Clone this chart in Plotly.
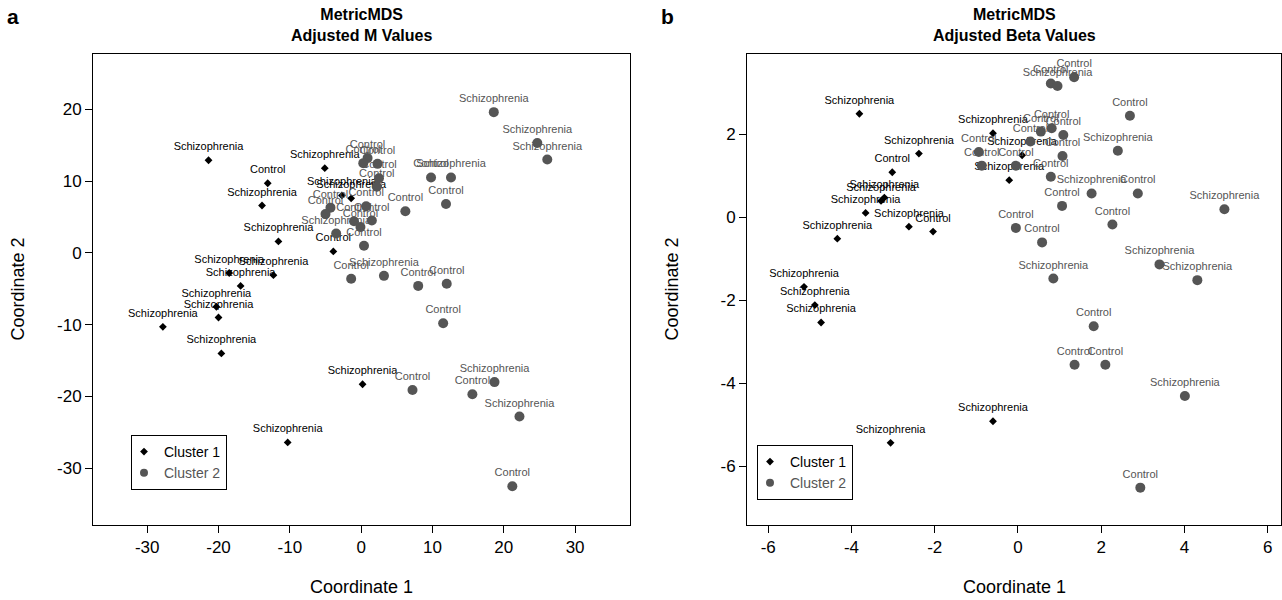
import plotly.graph_objects as go

S = "Schizophrenia"
C = "Control"

# ---------------- Panel a: Adjusted M Values ----------------
a_c1_x = [-21.4, -5.1, -13.1, -13.9, -11.6, -3.9, -18.5, -12.3, -16.9, -20.3, -20.0, -27.8, -19.6, -10.3, 0.2, -2.7, -1.4]
a_c1_y = [12.9, 11.8, 9.7, 6.6, 1.6, 0.2, -2.8, -3.1, -4.6, -7.5, -9.0, -10.3, -14.0, -26.4, -18.3, 8.0, 7.6]
a_c1_lab = [S, S, C, S, S, C, S, S, S, S, S, S, S, S, S, S, S]

a_c2_x = [18.6, 24.7, 26.1, 9.8, 12.6, 11.9, 6.2, 0.4, -1.4, 3.2, 8.0, 12.0, 11.5, 7.2, 18.7, 15.6, 22.2, 21.2,
          0.9, 0.3, 2.3, 2.5, 2.2, -4.3, -5.0, 0.7, -1.0, 1.5, -0.1, -3.5]
a_c2_y = [19.6, 15.3, 13.0, 10.5, 10.5, 6.8, 5.8, 1.0, -3.6, -3.2, -4.6, -4.3, -9.8, -19.1, -18.0, -19.7, -22.8, -32.5,
          13.2, 12.5, 12.4, 10.4, 9.2, 6.3, 5.4, 6.5, 4.4, 4.5, 3.6, 2.7]
a_c2_lab = [S, S, S, C, S, C, C, C, C, S, C, C, C, C, S, C, S, C,
            C, C, C, C, C, C, C, C, C, C, C, S]

# ---------------- Panel b: Adjusted Beta Values ----------------
b_c1_x = [-3.81, -2.38, -3.02, -3.21, -3.29, -3.66, -2.62, -2.04, -4.34, -0.60, -0.21, 0.10, -5.14, -4.88, -4.73, -3.06, -0.60]
b_c1_y = [2.49, 1.53, 1.08, 0.47, 0.39, 0.10, -0.23, -0.35, -0.52, 2.02, 0.89, 1.49, -1.68, -2.12, -2.54, -5.44, -4.92]
b_c1_lab = [S, S, C, S, S, S, S, C, S, S, S, S, S, S, S, S, S]

b_c2_x = [1.35, 0.79, 0.95, 2.69, 0.81, 1.09, 0.55, 0.30, -0.94, -0.87, -0.05, 1.07, 2.40, 0.79, 1.77, 2.88, 1.06,
          4.96, 2.27, -0.05, 0.58, 3.40, 4.31, 0.85, 1.82, 1.36, 2.10, 4.01, 2.94]
b_c2_y = [3.37, 3.22, 3.16, 2.44, 2.14, 1.98, 2.06, 1.82, 1.57, 1.24, 1.24, 1.47, 1.60, 0.97, 0.57, 0.57, 0.27,
          0.19, -0.18, -0.26, -0.61, -1.14, -1.52, -1.48, -2.63, -3.56, -3.56, -4.31, -6.52]
b_c2_lab = [C, C, S, C, C, C, C, C, C, C, C, C, S, C, S, C, C,
            S, C, C, C, S, S, S, C, C, C, S, C]

a_xticks = [-30, -20, -10, 0, 10, 20, 30]
a_yticks = [-30, -20, -10, 0, 10, 20]
b_xticks = [-6, -4, -2, 0, 2, 4, 6]
b_yticks = [-6, -4, -2, 0, 2]

titles = ["<b>MetricMDS</b><br><b>Adjusted M Values</b>", "<b>MetricMDS</b><br><b>Adjusted Beta Values</b>"]
panel_letters = ["a", "b"]
legend_names = ["Cluster 1", "Cluster 2"]

FONT = "Liberation Sans, Arial, sans-serif"
BLACK = "#000000"
GRAY = "#555555"

W, H = 1282, 600

fig = go.Figure()

def add_panel(xa, ya, legend, c1x, c1y, c1l, c2x, c2y, c2l):
    fig.add_trace(go.Scatter(
        x=c1x, y=c1y, mode="markers",
        marker=dict(symbol="diamond", size=6, color=BLACK),
        xaxis=xa, yaxis=ya, showlegend=False, hoverinfo="skip"))
    fig.add_trace(go.Scatter(
        x=c1x, y=c1y, text=c1l, mode="markers+text", textposition="top center",
        marker=dict(symbol="circle", size=10, color="rgba(0,0,0,0)"),
        textfont=dict(family=FONT, size=11, color=BLACK),
        xaxis=xa, yaxis=ya, showlegend=False, hoverinfo="skip"))
    fig.add_trace(go.Scatter(
        x=c2x, y=c2y, text=c2l, mode="markers+text", textposition="top center",
        marker=dict(symbol="circle", size=10, color=GRAY),
        textfont=dict(family=FONT, size=11, color=GRAY),
        xaxis=xa, yaxis=ya, showlegend=False, hoverinfo="skip"))
    # legend entries
    fig.add_trace(go.Scatter(
        x=[None], y=[None], mode="markers", name=legend_names[0],
        marker=dict(symbol="diamond", size=6, color=BLACK),
        xaxis=xa, yaxis=ya, legend=legend))
    fig.add_trace(go.Scatter(
        x=[None], y=[None], mode="markers", name="<span style='color:%s'>%s</span>" % (GRAY, legend_names[1]),
        marker=dict(symbol="circle", size=8, color=GRAY),
        xaxis=xa, yaxis=ya, legend=legend))

add_panel("x", "y", "legend", a_c1_x, a_c1_y, a_c1_lab, a_c2_x, a_c2_y, a_c2_lab)
add_panel("x2", "y2", "legend2", b_c1_x, b_c1_y, b_c1_lab, b_c2_x, b_c2_y, b_c2_lab)

# plot boxes in window pixels
A_L, A_R = 93, 630
B_L, B_R = 747, 1281
TOP, BOT = 54, 525

def px_x(p):
    return p / W

def px_y(p):
    return 1 - p / H

axis_common = dict(
    showgrid=False, zeroline=False, showline=True, linecolor=BLACK, linewidth=1,
    mirror=True, ticks="outside", ticklen=7, tickcolor=BLACK, tickwidth=1,
    tickfont=dict(family=FONT, size=17, color=BLACK),
)

def ttext(v):
    return [str(t) for t in v]

legend_common = dict(xanchor="left", yanchor="top", bordercolor=BLACK, borderwidth=1, bgcolor="white",
                     font=dict(family=FONT, size=14, color=BLACK), itemwidth=30, tracegroupgap=0,
                     indentation=-8)

fig.update_layout(
    width=W, height=H,
    margin=dict(l=0, r=0, t=0, b=0),
    paper_bgcolor="white", plot_bgcolor="white",
    font=dict(family=FONT, color=BLACK),
    xaxis=dict(domain=[px_x(A_L), px_x(A_R)], range=[-37.6, 37.7], tickvals=a_xticks, ticktext=ttext(a_xticks),
               anchor="y", **axis_common),
    yaxis=dict(domain=[px_y(BOT), px_y(TOP)], range=[-37.9, 27.7], tickvals=a_yticks, ticktext=ttext(a_yticks),
               anchor="x", **axis_common),
    xaxis2=dict(domain=[px_x(B_L), px_x(B_R)], range=[-6.51, 6.32], tickvals=b_xticks, ticktext=ttext(b_xticks),
                anchor="y2", **axis_common),
    yaxis2=dict(domain=[px_y(BOT), px_y(TOP)], range=[-7.42, 3.93], tickvals=b_yticks, ticktext=ttext(b_yticks),
                anchor="x2", **axis_common),
    legend=dict(x=px_x(131), y=px_y(435), **legend_common),
    legend2=dict(x=px_x(757), y=px_y(445), **legend_common),
)

annotations = []
for i, (l, r) in enumerate([(A_L, A_R), (B_L, B_R)]):
    cx = px_x((l + r) / 2)
    annotations.append(dict(text=titles[i], x=cx, y=px_y(25), xref="paper", yref="paper",
                            xanchor="center", yanchor="middle", showarrow=False,
                            font=dict(family=FONT, size=16, color=BLACK)))
    annotations.append(dict(text="Coordinate 1", x=cx, y=px_y(587), xref="paper", yref="paper",
                            xanchor="center", yanchor="middle", showarrow=False,
                            font=dict(family=FONT, size=18, color=BLACK)))
    annotations.append(dict(text="Coordinate 2", x=px_x(l - 75), y=px_y((TOP + BOT) / 2), xref="paper", yref="paper",
                            xanchor="center", yanchor="middle", showarrow=False, textangle=-90,
                            font=dict(family=FONT, size=18, color=BLACK)))
    annotations.append(dict(text="<b>%s</b>" % panel_letters[i], x=px_x(l - 80), y=px_y(17), xref="paper", yref="paper",
                            xanchor="center", yanchor="middle", showarrow=False,
                            font=dict(family=FONT, size=21, color=BLACK)))
fig.update_layout(annotations=annotations)

# remove the default 8px page margin so the figure fills the window exactly
fig.write_html("out.html", config={"displayModeBar": False},
               post_script="document.body.style.margin='0px';document.body.style.overflow='hidden';")
